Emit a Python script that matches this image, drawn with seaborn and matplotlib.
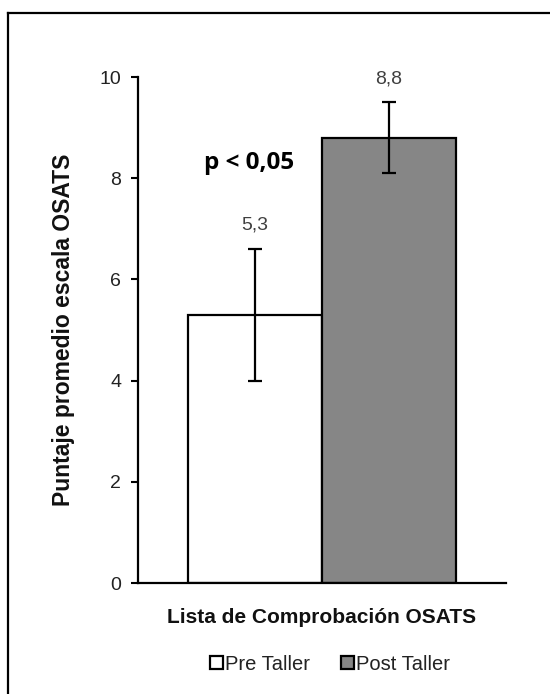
import matplotlib
matplotlib.use("Agg")
import matplotlib.pyplot as plt
from matplotlib.lines import Line2D
import seaborn as sns
import pandas as pd

# datos del grafico
grupo = ["Lista de Comprobación OSATS"]
talleres = ["Pre Taller", "Post Taller"]
puntajes = [5.3, 8.8]
desvios = [1.3, 0.7]
etiquetas = ["5,3", "8,8"]
colores = ["#ffffff", "#868686"]
y_ticks = [0, 2, 4, 6, 8, 10]

df = pd.DataFrame({"grupo": grupo * len(talleres), "taller": talleres, "puntaje": puntajes})

sns.set_style("white")
plt.rcParams["font.family"] = ["Liberation Sans", "DejaVu Sans"]

fig = plt.figure(figsize=(5.5, 6.94), dpi=100)
ax = fig.add_axes([138 / 550, 1 - 583 / 694, (506 - 138) / 550, (583 - 77) / 694])

sns.barplot(data=df, x="grupo", y="puntaje", hue="taller", hue_order=talleres,
            palette=colores, width=0.728, errorbar=None, edgecolor="black",
            linewidth=1.6, saturation=1, ax=ax)
ax.set_xlim(-0.5, 0.5)

# barras de error y etiquetas sobre cada barra
for bar, val, err, lab in zip(ax.patches, puntajes, desvios, etiquetas):
    cx = bar.get_x() + bar.get_width() / 2
    ax.errorbar(cx, val, yerr=err, color="black", lw=1.6, capsize=5, capthick=1.6)
    ax.annotate(lab, (cx, val + err), xytext=(0, 11), textcoords="offset points",
                ha="center", va="bottom", fontsize=14, color="#404040")

ax.text(-0.198, 8.3, "p < 0,05", ha="center", va="center", fontsize=17.5,
        fontweight="bold", family=["Open Sans", "DejaVu Sans"], color="black")

ax.set_ylim(0, 10)
ax.set_yticks(y_ticks)
ax.set_ylabel("Puntaje promedio escala OSATS", fontsize=16.5, fontweight="bold",
              labelpad=18, color="#111111")
ax.set_xlabel("")
for t in ax.get_xticklabels():
    t.set_fontweight("bold")
    t.set_fontsize(15)
    t.set_color("#111111")
ax.tick_params(axis="x", length=0, pad=18)
ax.tick_params(axis="y", direction="out", length=5, width=1.5, labelsize=14,
               pad=7, left=True, colors="black")
for t in ax.get_yticklabels():
    t.set_color("#222222")

sns.despine(ax=ax)
ax.spines["left"].set_linewidth(1.6)
ax.spines["bottom"].set_linewidth(1.6)
ax.spines["left"].set_color("black")
ax.spines["bottom"].set_color("black")

leg = ax.legend(loc="center", bbox_to_anchor=(0.6, 0.043), bbox_transform=fig.transFigure,
                ncol=2, frameon=False, fontsize=14.5, handlelength=0.65, handleheight=0.65,
                handletextpad=0.1, columnspacing=1.5)
for t in leg.get_texts():
    t.set_color("#222222")

# marco exterior: en la imagen solo se ven el borde superior y el izquierdo
x0 = 8 / 550
y0 = 1 - 13 / 694
fig.add_artist(Line2D([x0, x0], [-0.01, y0], transform=fig.transFigure, color="black",
                      lw=1.6, solid_capstyle="projecting"))
fig.add_artist(Line2D([x0, 1.02], [y0, y0], transform=fig.transFigure, color="black",
                      lw=1.6, solid_capstyle="projecting"))

fig.savefig("out.png", dpi=100)
